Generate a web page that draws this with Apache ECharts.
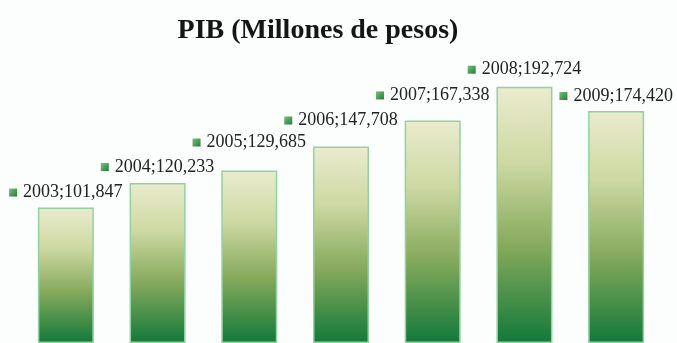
<!DOCTYPE html>
<html>
<head>
<meta charset="utf-8">
<script src="https://cdn.jsdelivr.net/npm/echarts@6/dist/echarts.min.js"></script>
<style>
  html, body { margin: 0; padding: 0; background: #fcfdfd; }
  #chart { width: 677px; height: 343px; }
</style>
</head>
<body>
<div id="chart"></div>
<script>
// PIB anual, millones de pesos
const years = ['2003', '2004', '2005', '2006', '2007', '2008', '2009'];
const pib = [101847, 120233, 129685, 147708, 167338, 192724, 174420];
const valueLabels = ['101,847', '120,233', '129,685', '147,708', '167,338', '192,724', '174,420'];

// extra vertical lift of each value label above its bar (px)
const labelLift = [-6, -7, -19, -17, -16, -8, -6];

const barFill = new echarts.graphic.LinearGradient(0, 0, 0, 1, [
  { offset: 0, color: '#eaecce' },
  { offset: 0.3, color: '#cdd8a2' },
  { offset: 0.62, color: '#86aa5c' },
  { offset: 1, color: '#12793a' }
]);

const squareFill = new echarts.graphic.LinearGradient(0, 0, 1, 1, [
  { offset: 0, color: '#7cc07a' },
  { offset: 1, color: '#1f7d3a' }
]);

const chart = echarts.init(document.getElementById('chart'));
chart.setOption({
  backgroundColor: '#fcfdfd',
  animation: false,
  title: {
    text: 'PIB (Millones de pesos)',
    left: 313,
    textAlign: 'center',
    top: 12,
    textStyle: {
      fontFamily: 'Liberation Serif',
      fontWeight: 'bold',
      fontSize: 28,
      color: '#151515'
    }
  },
  grid: { left: 20, right: 15, top: 77, bottom: -5 },
  xAxis: {
    type: 'category',
    data: years,
    show: false
  },
  yAxis: {
    type: 'value',
    min: 0,
    max: 200000,
    show: false
  },
  series: [{
    type: 'bar',
    barWidth: 56,
    data: pib.map((v, i) => ({
      value: v,
      label: { offset: [0, labelLift[i]] }
    })),
    itemStyle: {
      color: barFill,
      borderColor: '#93d2a0',
      borderWidth: 1.5
    },
    label: {
      show: true,
      position: 'top',
      distance: 0,
      formatter: p => '{sq|}{t|' + years[p.dataIndex] + ';' + valueLabels[p.dataIndex] + '}',
      rich: {
        sq: {
          width: 8,
          height: 8,
          backgroundColor: squareFill
        },
        t: {
          fontFamily: 'Liberation Serif',
          fontSize: 18,
          lineHeight: 18,
          color: '#222222',
          padding: [0, 0, 0, 6]
        }
      }
    }
  }]
});
</script>
</body>
</html>
